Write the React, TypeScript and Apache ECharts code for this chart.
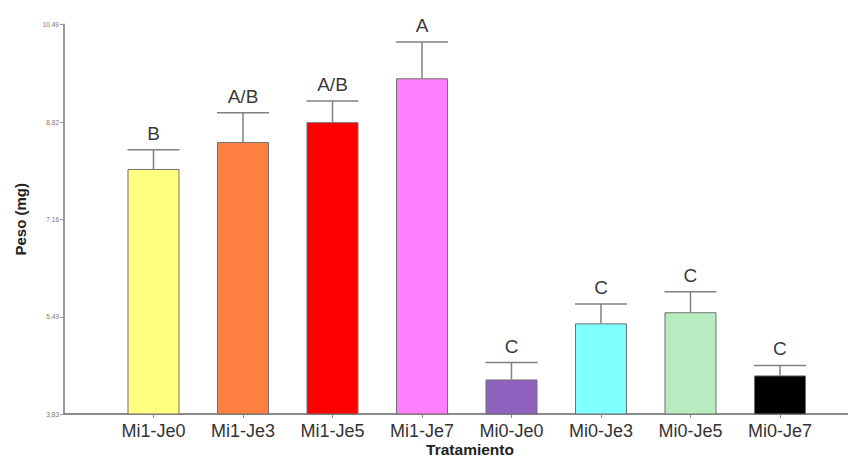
import React, { useEffect, useRef } from 'react';
import * as echarts from 'echarts';

const categories = ['Mi1-Je0', 'Mi1-Je3', 'Mi1-Je5', 'Mi1-Je7', 'Mi0-Je0', 'Mi0-Je3', 'Mi0-Je5', 'Mi0-Je7'];
const means = [8.02, 8.48, 8.82, 9.57, 4.42, 5.38, 5.57, 4.49];
const upper = [8.35, 8.98, 9.18, 10.19, 4.71, 5.71, 5.92, 4.66];
const letters = ['B', 'A/B', 'A/B', 'A', 'C', 'C', 'C', 'C'];
const yTicks = [3.83, 5.49, 7.16, 8.82, 10.49];

const palette = ['#FFFF80', '#FF8040', '#FF0000', '#FF80FF', '#8F62BF', '#80FFFF', '#B8EBC0', '#000000'];

export default function App() {
  const ref = useRef<HTMLDivElement>(null);
  useEffect(() => {
    if (!ref.current) return;
    const chart = echarts.init(ref.current, undefined, { renderer: 'svg' });
    const idx = categories.map((_, i) => i);
    chart.setOption({
      animation: false,
      backgroundColor: '#ffffff',
      grid: { left: 64, right: 0, top: 24.5, bottom: 45, containLabel: false, outerBoundsMode: 'none' },
      xAxis: {
        type: 'value',
        min: -1,
        max: 7.76,
        interval: 1,
        name: 'Tratamiento',
        nameLocation: 'middle',
        nameGap: 27,
        nameMoveOverlap: false,
        nameTextStyle: {
          fontFamily: 'Liberation Sans, Arial',
          fontWeight: 'bold',
          fontSize: 15.5,
          color: '#222',
          padding: [0, 0, 0, 28],
        },
        splitLine: { show: false },
        axisLine: { show: true, onZero: false, lineStyle: { color: '#8a8a8a', width: 2 } },
        axisTick: { show: true, length: 4, customValues: idx, lineStyle: { color: '#8a8a8a' } },
        axisLabel: {
          customValues: idx,
          margin: 8,
          fontFamily: 'Liberation Sans, Arial',
          fontSize: 18,
          color: '#333',
          formatter: (v: number) => categories[Math.round(v)] ?? '',
        },
      },
      yAxis: {
        type: 'value',
        min: 3.83,
        max: 10.49,
        name: 'Peso (mg)',
        nameLocation: 'middle',
        nameGap: 36,
        nameMoveOverlap: false,
        nameTextStyle: { fontFamily: 'Liberation Sans, Arial', fontWeight: 'bold', fontSize: 15, color: '#222' },
        splitLine: { show: false },
        axisLine: { show: true, onZero: false, lineStyle: { color: '#999', width: 2 } },
        axisTick: { show: true, length: 4, customValues: yTicks, lineStyle: { color: '#999' } },
        axisLabel: {
          customValues: yTicks,
          margin: 5,
          fontFamily: 'Liberation Sans, Arial',
          fontSize: 6.5,
          color: '#777',
          formatter: (v: number) => v.toFixed(2).replace('.', ','),
        },
      },
      series: [
        {
          type: 'bar',
          barWidth: 52,
          data: means.map((m, i) => ({ value: [i, m], itemStyle: { color: palette[i] } })),
          itemStyle: { borderColor: '#707070', borderWidth: 1 },
        },
        {
          type: 'custom',
          data: means.map((m, i) => [i, m, upper[i]]),
          encode: { x: 0, y: [1, 2] },
          renderItem: (params: any, api: any) => {
            const x = api.value(0);
            const lo = api.coord([x, api.value(1)]);
            const hi = api.coord([x, api.value(2)]);
            const style = { stroke: '#808080', lineWidth: 1.5 };
            return {
              type: 'group',
              children: [
                { type: 'line', shape: { x1: lo[0], y1: lo[1], x2: hi[0], y2: hi[1] }, style },
                { type: 'line', shape: { x1: hi[0] - 26, y1: hi[1], x2: hi[0] + 26, y2: hi[1] }, style },
              ],
            };
          },
          z: 3,
        },
        {
          type: 'scatter',
          symbolSize: 0,
          data: upper.map((u, i) => [i, u]),
          label: {
            show: true,
            position: 'top',
            distance: 7,
            fontFamily: 'Liberation Sans, Arial',
            fontSize: 19,
            color: '#000',
            formatter: (p: any) => letters[p.dataIndex],
          },
          z: 4,
        },
      ],
    });
    return () => chart.dispose();
  }, []);
  return <div ref={ref} style={{ position: 'fixed', left: 0, top: 0, width: 848, height: 459 }} />;
}
